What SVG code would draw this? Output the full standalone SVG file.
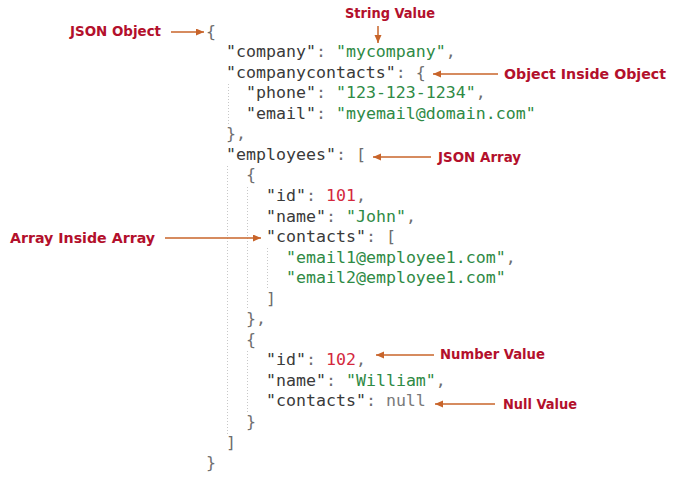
<svg xmlns="http://www.w3.org/2000/svg" width="682" height="477" viewBox="0 0 682 477">
<defs>
<marker id="ah" markerUnits="userSpaceOnUse" markerWidth="9" markerHeight="8" refX="8" refY="3.5" orient="auto">
<path d="M0,0 L8,3.5 L0,7 z" fill="#c8642a"/>
</marker>
<style>
.code{font-family:"DejaVu Sans Mono","Liberation Mono",monospace;font-size:16.6px;fill:#3a3a3a;white-space:pre}
.p{fill:#6e6e6e}
.s{fill:#2f8a45}
.n{fill:#d4283e}
.nl{fill:#7a7a7a}
.lbl{font-family:"DejaVu Sans Condensed","Liberation Sans",sans-serif;font-weight:bold;font-size:13.5px;fill:#b3102c}
.g{stroke:#c8c8c8;stroke-width:1;stroke-dasharray:1 2;fill:none}
.ar{stroke:#c8642a;stroke-width:1.5;fill:none;marker-end:url(#ah)}
</style>
</defs>
<rect width="682" height="477" fill="#ffffff"/>
<g id="guides">
<line class="g" x1="228.5" y1="84" x2="228.5" y2="124"/>
<line class="g" x1="227.5" y1="166" x2="227.5" y2="436"/>
<line class="g" x1="247.5" y1="187" x2="247.5" y2="309"/>
<line class="g" x1="267.5" y1="248" x2="267.5" y2="289"/>
<line class="g" x1="247.5" y1="351" x2="247.5" y2="414"/>
</g>
<g id="json-code" class="code" xml:space="preserve">
<text x="206" y="36.5"><tspan class="p">{</tspan></text>
<text x="226" y="57">"company"<tspan class="p">: </tspan><tspan class="s">"mycompany"</tspan><tspan class="p">,</tspan></text>
<text x="226" y="77.6">"companycontacts"<tspan class="p">: {</tspan></text>
<text x="246" y="98.2">"phone"<tspan class="p">: </tspan><tspan class="s">"123-123-1234"</tspan><tspan class="p">,</tspan></text>
<text x="246" y="118.7"><tspan>"email"</tspan><tspan class="p">: </tspan><tspan class="s">"myemail@domain.com"</tspan></text>
<text x="226" y="139.3"><tspan class="p">},</tspan></text>
<text x="226" y="159.8">"employees"<tspan class="p">: [</tspan></text>
<text x="246" y="180.4"><tspan class="p">{</tspan></text>
<text x="266" y="200.9">"id"<tspan class="p">: </tspan><tspan class="n">101</tspan><tspan class="p">,</tspan></text>
<text x="266" y="221.5">"name"<tspan class="p">: </tspan><tspan class="s">"John"</tspan><tspan class="p">,</tspan></text>
<text x="266" y="242">"contacts"<tspan class="p">: [</tspan></text>
<text x="286" y="262.6"><tspan class="s">"email1@employee1.com"</tspan><tspan class="p">,</tspan></text>
<text x="286" y="283.1"><tspan class="s">"email2@employee1.com"</tspan></text>
<text x="266" y="303.7"><tspan class="p">]</tspan></text>
<text x="246" y="324.2"><tspan class="p">},</tspan></text>
<text x="246" y="344.8"><tspan class="p">{</tspan></text>
<text x="266" y="365.3">"id"<tspan class="p">: </tspan><tspan class="n">102</tspan><tspan class="p">,</tspan></text>
<text x="266" y="385.9">"name"<tspan class="p">: </tspan><tspan class="s">"William"</tspan><tspan class="p">,</tspan></text>
<text x="266" y="406.4">"contacts"<tspan class="p">: </tspan><tspan class="nl">null</tspan></text>
<text x="246" y="427"><tspan class="p">}</tspan></text>
<text x="226" y="447.5"><tspan class="p">]</tspan></text>
<text x="206" y="468.1"><tspan class="p">}</tspan></text>
</g>
<g id="label-json-object"><text class="lbl" x="70" y="36" textLength="91" lengthAdjust="spacingAndGlyphs">JSON Object</text></g>
<g id="label-string-value"><text class="lbl" x="345" y="18" textLength="90" lengthAdjust="spacingAndGlyphs">String Value</text></g>
<g id="label-object-inside-object"><text class="lbl" x="504" y="79" textLength="162" lengthAdjust="spacingAndGlyphs">Object Inside Object</text></g>
<g id="label-json-array"><text class="lbl" x="438" y="162" textLength="83" lengthAdjust="spacingAndGlyphs">JSON Array</text></g>
<g id="label-array-inside-array"><text class="lbl" x="10" y="243" textLength="145" lengthAdjust="spacingAndGlyphs">Array Inside Array</text></g>
<g id="label-number-value"><text class="lbl" x="440" y="359" textLength="105" lengthAdjust="spacingAndGlyphs">Number Value</text></g>
<g id="label-null-value"><text class="lbl" x="503" y="409" textLength="74" lengthAdjust="spacingAndGlyphs">Null Value</text></g>
<g id="connectors">
<line class="ar" x1="171" y1="32" x2="204" y2="32"/>
<line class="ar" x1="378" y1="26" x2="378" y2="43"/>
<line class="ar" x1="498" y1="74" x2="433" y2="74"/>
<line class="ar" x1="431" y1="157" x2="373" y2="157"/>
<line class="ar" x1="165" y1="238" x2="261" y2="238"/>
<line class="ar" x1="434" y1="355" x2="376" y2="355"/>
<line class="ar" x1="495" y1="404" x2="435" y2="404"/>
</g>
</svg>
